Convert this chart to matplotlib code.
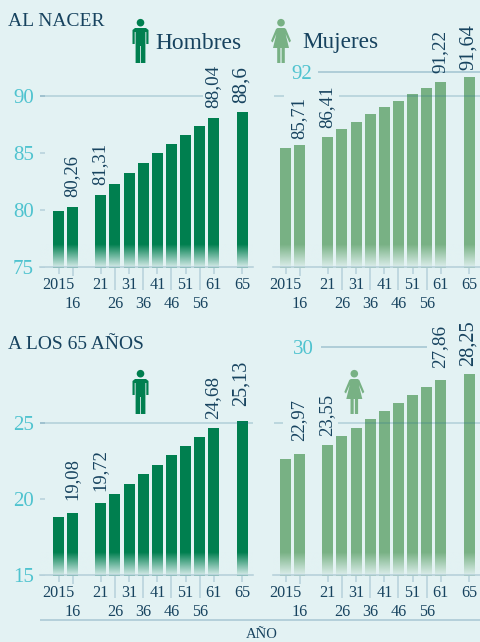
import numpy as np
import matplotlib
matplotlib.use("Agg")
import matplotlib.pyplot as plt
from matplotlib.patches import Polygon, Circle

# ---------- data ----------
tick_positions = [0, 1, 3, 4, 5, 6, 7, 8, 9, 10, 11, 13]
row1_positions = [0, 3, 5, 7, 9, 11, 13]
row1_labels = ["2015", "21", "31", "41", "51", "61", "65"]
row2_positions = [1, 4, 6, 8, 10, 12]
row2_labels = ["16", "26", "36", "46", "56", ""]

men_birth = [79.9, 80.26, 81.31, 82.28, 83.25, 84.1, 85.0, 85.8, 86.6, 87.4, 88.04, 88.6]
women_birth = [85.44, 85.71, 86.41, 87.1, 87.7, 88.4, 89.0, 89.56, 90.2, 90.7, 91.22, 91.64]
men_65 = [18.8, 19.08, 19.72, 20.33, 21.0, 21.64, 22.24, 22.9, 23.5, 24.08, 24.68, 25.13]
women_65 = [22.63, 22.97, 23.55, 24.14, 24.67, 25.26, 25.79, 26.3, 26.84, 27.37, 27.86, 28.25]

men_birth_labels = {1: "80,26", 2: "81,31", 10: "88,04", 11: "88,6"}
women_birth_labels = {1: "85,71", 2: "86,41", 10: "91,22", 11: "91,64"}
men_65_labels = {1: "19,08", 2: "19,72", 10: "24,68", 11: "25,13"}
women_65_labels = {1: "22,97", 2: "23,55", 10: "27,86", 11: "28,25"}

# ---------- style ----------
BG = "#E3F2F3"
GREEN = "#007F4F"
LGREEN = "#78B184"
NAVY = "#17435F"
TEAL = "#4FC3CF"
LINE = "#B5D0DA"
SERIF = "Liberation Serif"
NUMF = "Liberation Serif"
PX = 0.72
W, H = 480, 642

fig = plt.figure(figsize=(W / 100, H / 100), dpi=100, facecolor=BG)
ov = fig.add_axes([0, 0, 1, 1], zorder=0)
ov.set_xlim(0, W)
ov.set_ylim(H, 0)
ov.axis("off")

fade = np.ones((64, 1, 4))
fade[..., :3] = matplotlib.colors.to_rgb(BG)
fade[..., 3] = np.linspace(0, 0.93, 64)[:, None]


def panel(values, color, labels, offsets, sizes, left, right, x0, dx, bottom, top, ymin, scale):
    ax = fig.add_axes([left / W, 1 - bottom / H, (right - left) / W, (bottom - top) / H], zorder=2)
    ax.patch.set_visible(False)
    for s in ("top", "left", "right"):
        ax.spines[s].set_visible(False)
    sp = ax.spines["bottom"]
    sp.set_color(LINE)
    sp.set_linewidth(1.6 * PX)
    sp.set_zorder(6)
    base = ymin - 1.4 / scale
    ax.bar(tick_positions, np.array(values) - base, bottom=base, width=11 / dx,
           color=color, clip_on=False, zorder=3)
    xl = ((left - x0) / dx, (right - x0) / dx)
    yl = (ymin, ymin + (bottom - top) / scale)
    ax.imshow(fade, extent=(xl[0], xl[1], ymin - 0.2 / scale, ymin + 22 / scale), aspect="auto",
              interpolation="bilinear", zorder=4, clip_on=False)
    ax.set_xlim(*xl)
    ax.set_ylim(*yl)
    ax.set_xticks(row2_positions[:-1])
    ax.set_xticklabels(row2_labels[:-1])
    ax.set_xticks(row1_positions, labels=row1_labels, minor=True)
    ax.tick_params(axis="x", which="major", length=23 * PX, width=1.5 * PX, color=LINE,
                   pad=6 * PX, labelsize=11.6, labelcolor=NAVY)
    ax.tick_params(axis="x", which="minor", length=7 * PX, width=1.5 * PX, color=LINE,
                   pad=3 * PX, labelsize=11.6, labelcolor=NAVY)
    for t in ax.get_xticklabels(which="both"):
        t.set_fontfamily(SERIF)
    for t in ax.get_xticklabels(which="minor"):
        if t.get_text() == "2015":
            t.set_bbox(dict(facecolor=BG, edgecolor="none", pad=0.5))
    for (i, txt), off, sz in zip(labels.items(), offsets, sizes):
        ax.annotate(txt, (tick_positions[i], values[i]), xytext=(-1 * PX, off * PX), textcoords="offset points",
                    rotation=90, ha="center", va="bottom", fontsize=sz, color=NAVY, family=NUMF,
                    zorder=7, annotation_clip=False)
    return ax, x0, dx


def y_ticks(ax, vals, pad=6):
    ax.set_yticks(vals)
    ax.set_yticklabels([str(v) for v in vals])
    ax.tick_params(axis="y", direction="in", length=5 * PX, width=1.5 * PX, color=LINE, pad=pad * PX,
                   labelsize=15, labelcolor=TEAL)
    for t in ax.get_yticklabels():
        t.set_fontfamily(SERIF)


def gridline(pan, y, a, b, lw=1.5):
    ax, x0, dx = pan
    ax.hlines(y, (a - x0) / dx, (b - x0) / dx, color="#1E6A8C", alpha=0.26, lw=lw * PX, zorder=5)


XM, XW, DX = 58.5, 285.5, 14.12
p1 = panel(men_birth, GREEN, men_birth_labels, [10, 10, 10, 9], [13.4, 13.4, 13.8, 15.2],
           40, 253, XM, DX, 267, 60, 75, 11.4)
p2 = panel(women_birth, LGREEN, women_birth_labels, [6, 9, 9, 7], [13.4, 13.6, 13.8, 14.7],
           273, 480, XW, DX, 267, 20, 75, 11.4)
p3 = panel(men_65, GREEN, men_65_labels, [13, 12, 9, 15], [13.4, 13.4, 13.8, 14.5],
           40, 253, XM, DX, 575, 360, 15, 15.2)
p4 = panel(women_65, LGREEN, women_65_labels, [13, 9, 12, 8], [13.4, 13.4, 13.8, 14.7],
           273, 480, XW, DX, 575, 320, 15, 15.2)

y_ticks(p1[0], [75, 80, 85, 90])
y_ticks(p3[0], [15, 20, 25])
p2[0].set_yticks([])
p4[0].set_yticks([])

gridline(p1, 90, 40, 203)
gridline(p3, 25, 40, 253)
gridline(p2, 90, 274, 284)
gridline(p2, 90, 339, 480)
gridline(p2, 92.13, 318, 480, 2)
gridline(p4, 25, 274, 283)
gridline(p4, 25, 338, 480)
gridline(p4, 30, 321, 427, 2)

for pan, y, txt, xp in ((p2, 92.13, "92", 312), (p4, 30, "30", 314)):
    ax, x0, dx = pan
    ax.text((xp - x0) / dx, y, txt, ha="right", va="center_baseline", fontsize=15, color=TEAL, family=SERIF)

# ---------- overlay texts ----------
ov.text(8, 26, "AL NACER", fontsize=14, color=NAVY, family=SERIF, va="baseline")
ov.text(8, 349, "A LOS 65 AÑOS", fontsize=14, color=NAVY, family=SERIF, va="baseline")
ov.text(155, 49, "Hombres", fontsize=16.9, color=NAVY, family=SERIF, va="baseline")
ov.text(302, 48, "Mujeres", fontsize=16.7, color=NAVY, family=SERIF, va="baseline")
ov.text(262, 638.5, "AÑO", fontsize=10.5, color=NAVY, family=SERIF, va="baseline", ha="center")
ov.hlines(620, 40, 480, color=LINE, lw=2 * PX)

# ---------- pictograms ----------
MAN = [(-5.5, 9), (5.5, 9), (8, 11), (8, 25), (5.8, 25), (5.8, 13), (4.9, 13), (4.9, 44), (0.4, 44), (0.4, 27),
       (-0.4, 27), (-0.4, 44), (-4.9, 44), (-4.9, 13), (-5.8, 13), (-5.8, 25), (-8, 25), (-8, 11)]
WOMAN = [(-3.5, 9), (3.5, 9), (5, 10), (10, 22), (8.3, 23.5), (4.6, 15), (8, 29), (3.8, 29), (3.8, 44), (0.6, 44),
         (0.6, 29), (-0.6, 29), (-0.6, 44), (-3.8, 44), (-3.8, 29), (-8, 29), (-4.6, 15), (-8.3, 23.5), (-10, 22),
         (-5, 10)]


def person(shape, cx, top, color):
    ov.add_patch(Circle((cx, top + 3.7), 3.8, fc=color, ec="none"))
    ov.add_patch(Polygon([(cx + x, top + y) for x, y in shape], closed=True, fc=color, ec="none"))


person(MAN, 140.5, 19, GREEN)
person(MAN, 140.5, 370, GREEN)
person(WOMAN, 281, 19, LGREEN)
person(WOMAN, 354.3, 370, LGREEN)

fig.savefig("out.png", dpi=100, facecolor=BG)
